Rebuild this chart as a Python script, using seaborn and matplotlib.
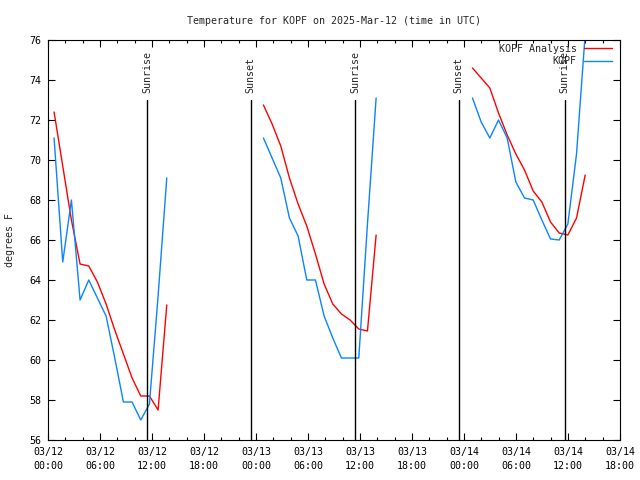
import pandas as pd
import matplotlib
matplotlib.use('Agg')
import matplotlib.pyplot as plt
import matplotlib.dates as mdates
import seaborn as sns

# three runs of hourly values, one per day (start times)
seg_starts = ['2025-03-12 00:42', '2025-03-13 00:51', '2025-03-14 00:58']

analysis = [
    [72.4, 69.7, 67.0, 64.8, 64.7, 63.9, 62.8, 61.5, 60.3, 59.1, 58.2, 58.2, 57.5, 62.75],
    [72.75, 71.8, 70.7, 69.1, 67.8, 66.7, 65.3, 63.8, 62.8, 62.3, 62.0, 61.55, 61.45, 66.25],
    [74.6, 74.1, 73.6, 72.35, 71.25, 70.3, 69.5, 68.45, 67.9, 66.9, 66.35, 66.25, 67.1, 69.25],
]
observed = [
    [71.1, 64.9, 68.0, 63.0, 64.0, 63.1, 62.2, 60.1, 57.9, 57.9, 57.0, 57.8, 63.2, 69.1],
    [71.1, 70.1, 69.1, 67.1, 66.2, 64.0, 64.0, 62.2, 61.1, 60.1, 60.1, 60.1, 66.8, 73.1],
    [73.1, 71.9, 71.1, 72.0, 71.1, 68.9, 68.1, 68.0, 67.0, 66.05, 66.0, 66.8, 70.3, 76.3],
]

sun_times = ['2025-03-12 11:27', '2025-03-12 23:22', '2025-03-13 11:27',
             '2025-03-13 23:22', '2025-03-14 11:35']
sun_labels = ['Sunrise', 'Sunset', 'Sunrise', 'Sunset', 'Sunrise']

rows = []
for k, start in enumerate(seg_starts):
    times = pd.date_range(start, periods=len(analysis[k]), freq='h')
    for t, a, o in zip(times, analysis[k], observed[k]):
        rows.append({'time': t, 'temp': a, 'series': 'KOPF Analysis', 'seg': k})
        rows.append({'time': t, 'temp': o, 'series': 'KOPF', 'seg': k})
df = pd.DataFrame(rows)

sns.set_style('ticks')
plt.rcParams['font.family'] = ['DejaVu Sans Mono']
plt.rcParams['font.size'] = 7.2

fig = plt.figure(figsize=(6.4, 4.8), dpi=100)
ax = fig.add_axes([0.075, 0.0833, 0.894, 0.8334])

sns.lineplot(data=df, x='time', y='temp', hue='series', units='seg', estimator=None,
             hue_order=['KOPF Analysis', 'KOPF'],
             palette={'KOPF Analysis': '#ff0000', 'KOPF': '#0a84ff'},
             linewidth=1.0, ax=ax)

for t, lab in zip(sun_times, sun_labels):
    tt = pd.Timestamp(t)
    ax.plot([tt, tt], [56, 73], color='black', linewidth=1.0)
    ax.text(tt, 73.35, lab, rotation=90, ha='center', va='bottom', fontsize=7.2)

ax.set_xlim(pd.Timestamp('2025-03-12 00:00'), pd.Timestamp('2025-03-14 18:00'))
ax.set_ylim(56, 76)
ax.set_yticks(range(56, 77, 2))
ax.xaxis.set_major_locator(mdates.HourLocator(byhour=[0, 6, 12, 18]))
ax.xaxis.set_minor_locator(mdates.HourLocator(byhour=range(0, 24, 2)))
ax.xaxis.set_major_formatter(mdates.DateFormatter('%m/%d\n%H:%M'))
for lbl in ax.get_xticklabels():
    lbl.set_linespacing(1.5)
ax.tick_params(which='both', direction='in', top=True, right=True, colors='black',
               labelsize=7.2, width=0.8)
ax.tick_params(which='major', length=5, pad=5)
ax.tick_params(which='minor', length=2.5)
for s in ax.spines.values():
    s.set_color('black')
    s.set_linewidth(0.8)

ax.set_xlabel('')
ax.set_ylabel('degrees F', fontsize=7.2, labelpad=10)
ax.set_title('Temperature for KOPF on 2025-Mar-12 (time in UTC)', fontsize=7.2, pad=11.8)

ax.legend(loc='upper right', bbox_to_anchor=(0.992, 1.0), frameon=False, markerfirst=False,
          handlelength=2.8, handletextpad=0.7, labelspacing=0.25, borderaxespad=0.0,
          fontsize=7.2)

fig.savefig('out.png', dpi=100)
